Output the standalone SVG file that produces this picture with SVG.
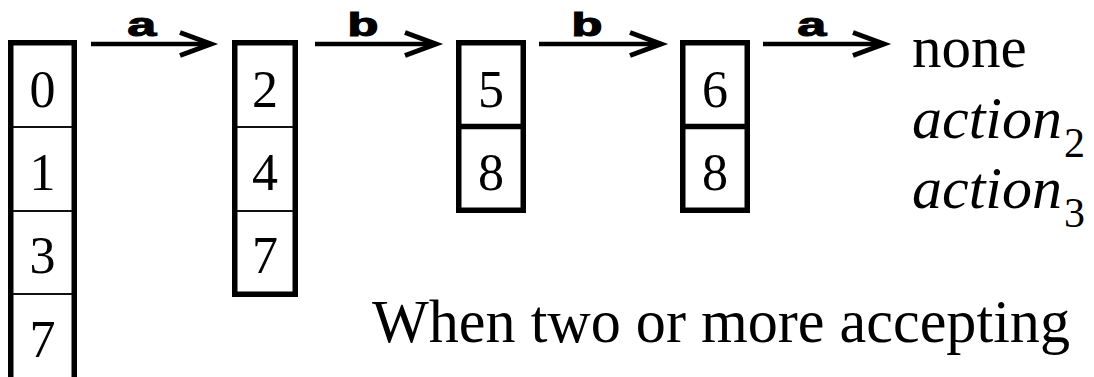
<svg xmlns="http://www.w3.org/2000/svg" width="1094" height="377" viewBox="0 0 1094 377">
  <style>
    .box { fill: #fff; stroke: #000; stroke-width: 5.5; }
    .thin { stroke: #111; stroke-width: 2; }
    .thick { stroke: #000; stroke-width: 5.5; }
    .dig { font-family: "Liberation Serif", "Times New Roman", serif; font-size: 52px; text-anchor: middle; fill: #000; }
    .edge { fill: none; stroke: #000; stroke-width: 4.5; }
    .lbl { font-family: "Liberation Mono", "Courier New", monospace; font-weight: bold; font-size: 34px; fill: #000; stroke: #000; stroke-width: 1; text-anchor: middle; }
    .txt { font-family: "Liberation Serif", "Times New Roman", serif; fill: #000; }
    .it { font-family: "Liberation Serif", "Times New Roman", serif; font-style: italic; font-size: 60px; fill: #000; }
    .sub { font-family: "Liberation Serif", "Times New Roman", serif; font-style: normal; font-size: 42px; fill: #000; }
  </style>
  <defs>
    <marker id="chev" markerUnits="userSpaceOnUse" viewBox="-40 -16 48 32" markerWidth="48" markerHeight="32" refX="0" refY="0" orient="auto">
      <path d="M-31,-11.5 L0,0 L-31,11.5" fill="none" stroke="#000" stroke-width="5"/>
    </marker>
  </defs>

  <g id="state0">
    <rect class="box" x="10.75" y="42.75" width="63.5" height="337"/>
    <line class="thin" x1="13" y1="127" x2="72" y2="127"/>
    <line class="thin" x1="13" y1="211" x2="72" y2="211"/>
    <line class="thin" x1="13" y1="294" x2="72" y2="294"/>
    <text class="dig" x="42.5" y="107">0</text>
    <text class="dig" x="42.5" y="190">1</text>
    <text class="dig" x="42.5" y="273">3</text>
    <text class="dig" x="42.5" y="357">7</text>
  </g>

  <g id="state1">
    <rect class="box" x="234.75" y="42.75" width="60.5" height="251.5"/>
    <line class="thin" x1="237" y1="127" x2="293" y2="127"/>
    <line class="thin" x1="237" y1="211" x2="293" y2="211"/>
    <text class="dig" x="265" y="107">2</text>
    <text class="dig" x="265" y="190">4</text>
    <text class="dig" x="265" y="273">7</text>
  </g>

  <g id="state2">
    <rect class="box" x="458.75" y="42.75" width="64.5" height="167.5"/>
    <line class="thick" x1="458.75" y1="126.5" x2="523.25" y2="126.5"/>
    <text class="dig" x="491" y="107">5</text>
    <text class="dig" x="491" y="190">8</text>
  </g>

  <g id="state3">
    <rect class="box" x="682.75" y="42.75" width="64.5" height="167.5"/>
    <line class="thick" x1="682.75" y1="126.5" x2="747.25" y2="126.5"/>
    <text class="dig" x="715" y="107">6</text>
    <text class="dig" x="715" y="190">8</text>
  </g>

  <g id="actions">
    <text class="txt" x="912" y="67" font-size="59">none</text>
    <text class="it" x="912" y="138">action</text>
    <text class="sub" x="1064" y="157">2</text>
    <text class="it" x="912" y="208">action</text>
    <text class="sub" x="1064" y="227">3</text>
  </g>

  <g id="note">
    <text class="txt" x="372" y="342" font-size="62" textLength="698" lengthAdjust="spacingAndGlyphs">When two or more accepting</text>
  </g>

  <g id="connectors">
    <line class="edge" x1="91" y1="44" x2="211" y2="44" marker-end="url(#chev)"/>
    <line class="edge" x1="315" y1="44" x2="436" y2="44" marker-end="url(#chev)"/>
    <line class="edge" x1="539" y1="44" x2="661" y2="44" marker-end="url(#chev)"/>
    <line class="edge" x1="763" y1="44" x2="884" y2="44" marker-end="url(#chev)"/>
    <text class="lbl" x="142" y="36" textLength="32" lengthAdjust="spacingAndGlyphs">a</text>
    <text class="lbl" x="363" y="36" textLength="32" lengthAdjust="spacingAndGlyphs">b</text>
    <text class="lbl" x="587" y="36" textLength="32" lengthAdjust="spacingAndGlyphs">b</text>
    <text class="lbl" x="812" y="36" textLength="32" lengthAdjust="spacingAndGlyphs">a</text>
  </g>
</svg>
